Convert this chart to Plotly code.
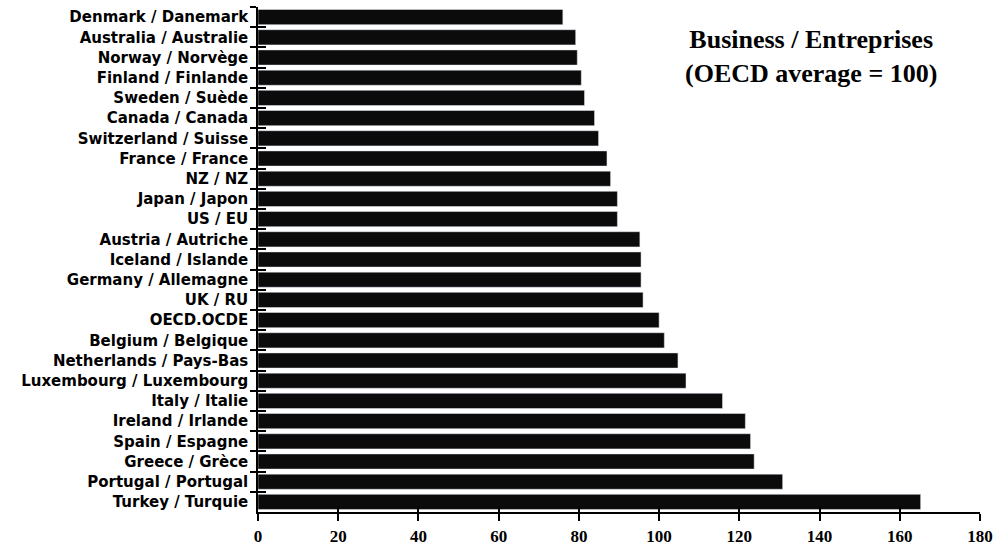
import plotly.graph_objects as go

countries = [
    "Denmark / Danemark", "Australia / Australie", "Norway / Norvège",
    "Finland / Finlande", "Sweden / Suède", "Canada / Canada",
    "Switzerland / Suisse", "France / France", "NZ / NZ", "Japan / Japon",
    "US / EU", "Austria / Autriche", "Iceland / Islande",
    "Germany / Allemagne", "UK / RU", "OECD.OCDE", "Belgium / Belgique",
    "Netherlands / Pays-Bas", "Luxembourg / Luxembourg", "Italy / Italie",
    "Ireland / Irlande", "Spain / Espagne", "Greece / Grèce",
    "Portugal / Portugal", "Turkey / Turquie",
]
values = [
    76.0, 79.2, 79.6, 80.6, 81.4, 83.9, 84.9, 87.0, 87.9, 89.6,
    89.6, 95.2, 95.5, 95.5, 96.0, 100.0, 101.3, 104.7, 106.7, 115.8,
    121.5, 122.8, 123.7, 130.8, 165.2,
]
x_ticks = [0, 20, 40, 60, 80, 100, 120, 140, 160, 180]

fig = go.Figure()
fig.add_trace(go.Bar(
    x=values, y=countries, orientation="h",
    marker=dict(color="#0b0b0b", line=dict(width=0)),
    width=0.75, hoverinfo="x+y", showlegend=False,
))
# transparent copy on overlay axes to draw crossing tick marks
fig.add_trace(go.Bar(
    x=values, y=countries, orientation="h", xaxis="x2", yaxis="y2",
    marker=dict(color="rgba(0,0,0,0)"), width=0.75,
    hoverinfo="skip", showlegend=False,
))

fig.update_layout(
    width=1004, height=549,
    margin=dict(l=258, r=24, t=7, b=37),
    paper_bgcolor="white", plot_bgcolor="white",
    bargap=0.25,
    xaxis=dict(
        range=[0, 180], tickvals=x_ticks, ticktext=[str(v) for v in x_ticks],
        showgrid=False, zeroline=False, showline=True, linecolor="black",
        linewidth=1.5, ticks="outside", ticklen=7, tickwidth=1.5,
        tickcolor="black", ticklabelstandoff=1, automargin=False,
        tickfont=dict(family="Liberation Serif", size=17, color="black",
                      weight="bold"),
    ),
    xaxis2=dict(
        range=[0, 180], matches="x", overlaying="x", anchor="y2",
        side="bottom", tickvals=x_ticks, showticklabels=False,
        showgrid=False, zeroline=False, showline=False, automargin=False,
        ticks="inside", ticklen=5, tickwidth=1.5, tickcolor="black",
    ),
    yaxis=dict(
        categoryorder="array", categoryarray=countries, autorange="reversed",
        showgrid=False, zeroline=False, showline=True, linecolor="black",
        linewidth=1.5, ticks="outside", ticklen=6, tickwidth=1.5,
        tickcolor="black", tickson="boundaries", ticklabelstandoff=5,
        automargin=False,
        tickfont=dict(family="DejaVu Sans", size=15, color="black",
                      weight="bold"),
    ),
    yaxis2=dict(
        categoryorder="array", categoryarray=countries, autorange="reversed",
        matches="y", overlaying="y", anchor="x2", side="left",
        showticklabels=False, showgrid=False, zeroline=False,
        showline=False, ticks="inside", ticklen=8, tickwidth=1.5,
        tickcolor="black", tickson="boundaries", automargin=False,
    ),
    annotations=[dict(
        text="Business / Entreprises<br>(OECD average = 100)",
        xref="paper", yref="paper", x=0.766, y=0.968,
        xanchor="center", yanchor="top", showarrow=False, align="center",
        font=dict(family="Liberation Serif", size=26, color="black",
                  weight="bold"),
    )],
)

fig.write_html("out.html", config={"displayModeBar": False})
with open("out.html", encoding="utf-8") as f:
    html = f.read()
html = html.replace("<body>", '<body style="margin:0;overflow:hidden">', 1)
with open("out.html", "w", encoding="utf-8") as f:
    f.write(html)
